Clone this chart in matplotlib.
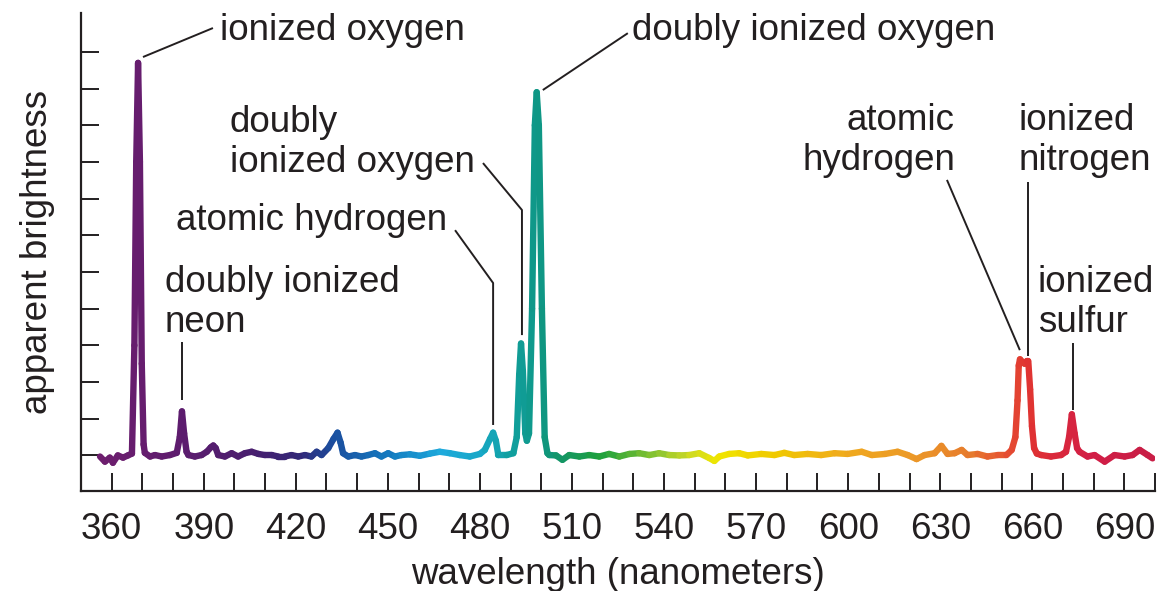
import numpy as np
import matplotlib
matplotlib.use("Agg")
import matplotlib.pyplot as plt
from matplotlib.collections import LineCollection
from matplotlib.colors import LinearSegmentedColormap

plt.rcParams['font.family'] = ['Liberation Sans', 'DejaVu Sans']

# ---------------- data ----------------
wavelength = [
    356.2, 357.8, 359.4, 360.4, 362.0, 363.7, 365.3, 366.6, 367.4, 368.0,
    368.6, 369.2, 369.8, 370.4, 370.8, 372.5, 374.1, 376.3, 379.0, 381.2,
    382.2, 382.9, 383.6, 384.4, 385.0, 387.1, 389.3, 391.0, 392.3, 393.1,
    393.9, 394.7, 396.9, 399.1, 401.2, 403.4, 405.6, 407.8, 409.9, 412.1,
    414.3, 416.4, 418.6, 420.8, 423.0, 425.1, 426.8, 428.4, 430.6, 432.3,
    433.6, 434.6, 435.4, 437.1, 439.3, 441.4, 443.6, 445.8, 447.9, 450.1,
    452.3, 454.4, 457.2, 460.4, 463.7, 466.9, 470.2, 473.4, 476.7, 480.0,
    481.6, 483.3, 484.3, 485.2, 486.0, 488.7, 490.9, 492.0, 492.8, 493.4,
    494.0, 494.8, 495.3, 496.0, 497.0, 497.9, 498.5, 499.2, 500.2, 501.1,
    502.0, 502.6, 504.8, 506.9, 509.1, 512.4, 515.6, 518.9, 522.1, 525.4,
    528.7, 531.9, 535.2, 538.4, 541.7, 545.0, 548.2, 551.5, 554.7, 556.4,
    558.0, 561.2, 564.5, 567.3, 571.7, 576.0, 579.2, 582.4, 586.8, 591.2,
    595.6, 599.8, 604.4, 607.7, 612.0, 616.1, 619.4, 622.3, 624.9, 628.2,
    630.4, 632.4, 634.7, 637.0, 638.9, 642.2, 645.4, 648.7, 651.6, 653.3,
    654.5, 655.2, 655.6, 656.0, 656.8, 657.5, 658.2, 658.7, 659.3, 659.9,
    660.6, 661.5, 662.9, 666.1, 669.4, 671.0, 672.0, 672.9, 673.8, 674.6,
    675.4, 678.0, 680.3, 683.6, 686.8, 690.1, 692.7, 695.0, 697.6, 699.2,
]
brightness = [
    -0.03, -0.17, -0.06, -0.20, 0.00, -0.06, 0.00, 0.05, 3.00, 8.00,
    10.70, 8.00, 2.50, 0.30, 0.07, -0.03, 0.01, -0.03, 0.01, 0.07,
    0.50, 1.20, 0.60, 0.10, 0.01, -0.03, 0.01, 0.10, 0.22, 0.27,
    0.20, 0.01, -0.03, 0.06, -0.03, 0.06, 0.10, 0.04, 0.01, 0.01,
    -0.03, -0.03, 0.01, -0.03, 0.01, -0.03, 0.10, 0.01, 0.20, 0.45,
    0.62, 0.35, 0.06, -0.03, 0.01, -0.03, 0.01, 0.06, -0.03, 0.06,
    -0.03, 0.01, 0.03, -0.01, 0.05, 0.10, 0.06, 0.01, -0.03, 0.04,
    0.15, 0.45, 0.62, 0.40, 0.01, 0.01, 0.06, 0.50, 2.20, 3.05,
    2.30, 0.60, 0.40, 0.60, 4.00, 9.00, 9.90, 9.00, 4.00, 0.50,
    0.06, 0.01, 0.00, -0.12, 0.01, -0.03, 0.01, -0.03, 0.04, -0.03,
    0.04, 0.06, 0.01, 0.06, 0.01, 0.00, 0.01, 0.06, -0.07, -0.15,
    -0.03, 0.04, 0.06, 0.00, 0.04, 0.01, 0.07, 0.01, 0.04, 0.01,
    0.06, 0.04, 0.10, 0.01, 0.04, 0.10, 0.01, -0.10, 0.01, 0.06,
    0.26, 0.04, 0.06, 0.15, 0.01, 0.04, -0.03, 0.01, 0.01, 0.15,
    0.50, 1.50, 2.45, 2.62, 2.55, 2.50, 2.57, 2.57, 1.80, 0.80,
    0.20, 0.05, 0.01, -0.03, 0.01, 0.10, 0.50, 1.12, 0.60, 0.20,
    0.10, -0.03, 0.01, -0.17, 0.01, -0.03, 0.01, 0.15, 0.01, -0.08,
]

x_ticks = list(range(360, 701, 10))
x_tick_labels = [str(v) if (v - 360) % 30 == 0 else '' for v in x_ticks]
y_ticks = list(range(0, 12))

# labels: (lines, x, first-baseline y, align)
labels = [
    (["ionized oxygen"], 395.3, 11.32, 'left'),
    (["doubly ionized oxygen"], 529.5, 11.32, 'left'),
    (["doubly", "ionized oxygen"], 398.5, 8.81, 'left'),
    (["atomic hydrogen"], 380.9, 6.14, 'left'),
    (["doubly ionized", "neon"], 377.4, 4.46, 'left'),
    (["atomic", "hydrogen"], 634.8, 8.87, 'right'),
    (["ionized", "nitrogen"], 655.6, 8.87, 'left'),
    (["ionized", "sulfur"], 661.8, 4.46, 'left'),
]
leaders = [
    ([370.2, 393.0], [10.86, 11.65]),
    ([500.5, 528.2], [9.96, 11.51]),
    ([481.0, 493.7, 493.7], [7.97, 6.69, 3.28]),
    ([471.9, 484.3, 484.3], [6.14, 4.70, 0.83]),
    ([382.9, 382.9], [3.09, 1.51]),
    ([632.2, 655.96], [7.51, 2.87]),
    ([658.6, 658.6], [7.45, 2.71]),
    ([673.2, 673.2], [3.07, 1.24]),
]

# ---------------- style ----------------
spectrum_stops = [
    (356, '#6e1e6e'), (380, '#5f1c6e'), (405, '#4a1e6e'), (422, '#322878'),
    (433, '#1a50a0'), (450, '#1478be'), (468, '#1eaadc'), (480, '#18a8c8'),
    (490, '#10a0a0'), (500, '#0f9682'), (508, '#149664'), (520, '#1ea03c'),
    (535, '#78be32'), (548, '#c8d828'), (558, '#f0e600'), (578, '#f0c800'),
    (600, '#f0aa1e'), (625, '#eb9628'), (642, '#e6782d'), (652, '#e65032'),
    (660, '#e03232'), (680, '#d21e46'), (700, '#c81e46'),
]
lo, hi = spectrum_stops[0][0], spectrum_stops[-1][0]
cmap = LinearSegmentedColormap.from_list(
    'spec', [((w - lo) / (hi - lo), c) for w, c in spectrum_stops])

TXT = '#231f20'
FS = 26.5
W, H = 1157, 591

fig = plt.figure(figsize=(W / 100, H / 100), dpi=100)
ax = fig.add_axes([81 / W, 1 - 491 / H, (1155 - 81) / W, (491 - 13) / H])
ax.set_xlim(350, 700)
ax.set_ylim(-0.97, 12.06)

wl = np.asarray(wavelength)
br = np.asarray(brightness)
pts = np.column_stack([wl, br]).reshape(-1, 1, 2)
segs = np.concatenate([pts[:-1], pts[1:]], axis=1)
mids = (wl[:-1] + wl[1:]) / 2
lc = LineCollection(segs, colors=cmap((mids - lo) / (hi - lo)),
                    linewidths=4.6, capstyle='round', joinstyle='round')
ax.add_collection(lc)

for xs, ys in leaders:
    ax.plot(xs, ys, color=TXT, lw=1.4, solid_capstyle='butt')

line_step = 1.09
for lines, x, y0, ha in labels:
    for i, t in enumerate(lines):
        ax.text(x, y0 - i * line_step, t, ha=ha, va='baseline',
                fontsize=FS, color=TXT)

for s in ['top', 'right']:
    ax.spines[s].set_visible(False)
for s in ['left', 'bottom']:
    ax.spines[s].set_linewidth(1.6)
    ax.spines[s].set_color(TXT)

ax.set_xticks(x_ticks)
ax.set_xticklabels(x_tick_labels)
ax.set_yticks(y_ticks)
ax.set_yticklabels([])
ax.tick_params(axis='both', direction='in', length=13, width=1.4,
               color=TXT, labelsize=FS, labelcolor=TXT)
ax.tick_params(axis='x', pad=15)

ax.set_xlabel('wavelength (nanometers)', fontsize=FS, color=TXT, labelpad=7)
ax.set_ylabel('apparent brightness', fontsize=FS, color=TXT, labelpad=15)

fig.savefig('out.png', dpi=100)
